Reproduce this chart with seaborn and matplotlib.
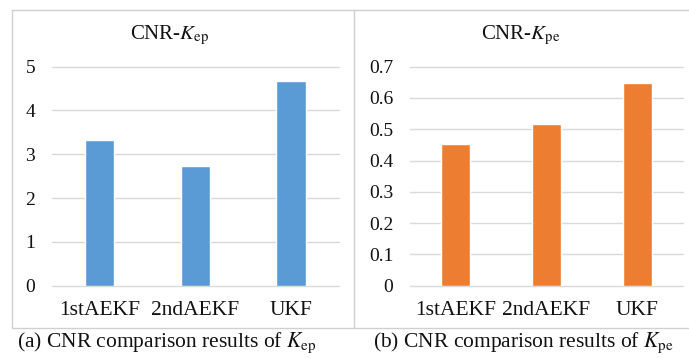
import matplotlib
matplotlib.use("Agg")
import matplotlib.pyplot as plt
from matplotlib.lines import Line2D
import seaborn as sns
import pandas as pd

# Data
methods = ["1stAEKF", "2ndAEKF", "UKF"]
cnr_kep = [3.32, 2.74, 4.67]
cnr_kpe = [0.453, 0.516, 0.649]
kep_ticks = [0, 1, 2, 3, 4, 5]
kpe_ticks = [0, 0.1, 0.2, 0.3, 0.4, 0.5, 0.6, 0.7]
kpe_tick_labels = ["0", "0.1", "0.2", "0.3", "0.4", "0.5", "0.6", "0.7"]

sns.set_style("white")
plt.rcParams["font.family"] = ["Liberation Serif", "DejaVu Serif"]
plt.rcParams["mathtext.fontset"] = "stix"

W, H = 689, 358
fig = plt.figure(figsize=(W / 100, H / 100), dpi=100)

GRID = "#D9D9D9"


def px_axes(x0, x1, ytop, ybot):
    return fig.add_axes([x0 / W, 1 - ybot / H, (x1 - x0) / W, (ybot - ytop) / H])


def style(ax, ymax, ticks, labels):
    ax.set_ylim(0, ymax)
    ax.set_xlim(-0.5, 2.5)
    ax.set_yticks(ticks)
    ax.set_yticklabels(labels)
    for s in ["top", "right", "left", "bottom"]:
        ax.spines[s].set_visible(False)
    ax.yaxis.grid(True, color=GRID, lw=1.0)
    for gl in ax.get_ygridlines():
        gl.set_clip_on(False)
    ax.set_axisbelow(True)
    ax.tick_params(axis="y", length=0, pad=12, labelsize=14, colors="#111111")
    ax.tick_params(axis="x", length=0, pad=11, labelsize=15.5, colors="#111111")
    ax.set_xlabel("")
    ax.set_ylabel("")


df_a = pd.DataFrame({"method": methods, "value": cnr_kep})
df_b = pd.DataFrame({"method": methods, "value": cnr_kpe})

ax1 = px_axes(51.7, 339, 66.7, 285.7)
sns.barplot(data=df_a, x="method", y="value", color="#5B9BD5", saturation=1,
            width=0.31, ax=ax1)
style(ax1, 5, kep_ticks, [str(t) for t in kep_ticks])

ax2 = px_axes(410, 683, 66.7, 285.7)
sns.barplot(data=df_b, x="method", y="value", color="#ED7D31", saturation=1,
            width=0.31, ax=ax2)
style(ax2, 0.7, kpe_ticks, kpe_tick_labels)

# Chart titles
fig.text(170 / W, 1 - 35 / H, r"CNR-$K_{\mathrm{ep}}$", ha="center", va="center",
         fontsize=15, color="#111111")
fig.text(521 / W, 1 - 35 / H, r"CNR-$K_{\mathrm{pe}}$", ha="center", va="center",
         fontsize=15, color="#111111")

# Captions
fig.text(167 / W, 1 - 343 / H, r"(a) CNR comparison results of $K_{\mathrm{ep}}$",
         ha="center", va="center", fontsize=15.5, color="#111111")
fig.text(523 / W, 1 - 343 / H, r"(b) CNR comparison results of $K_{\mathrm{pe}}$",
         ha="center", va="center", fontsize=15.5, color="#111111")

# Chart-area frame lines
frame = "#D0D0D0"
def line(x0, y0, x1, y1):
    fig.add_artist(Line2D([x0 / W, x1 / W], [1 - y0 / H, 1 - y1 / H],
                          color=frame, lw=1.0))

line(12, 10, 689, 10)
line(12, 328, 689, 328)
line(12, 10, 12, 328)
line(354, 10, 354, 328)

fig.savefig("out.png", dpi=100)
